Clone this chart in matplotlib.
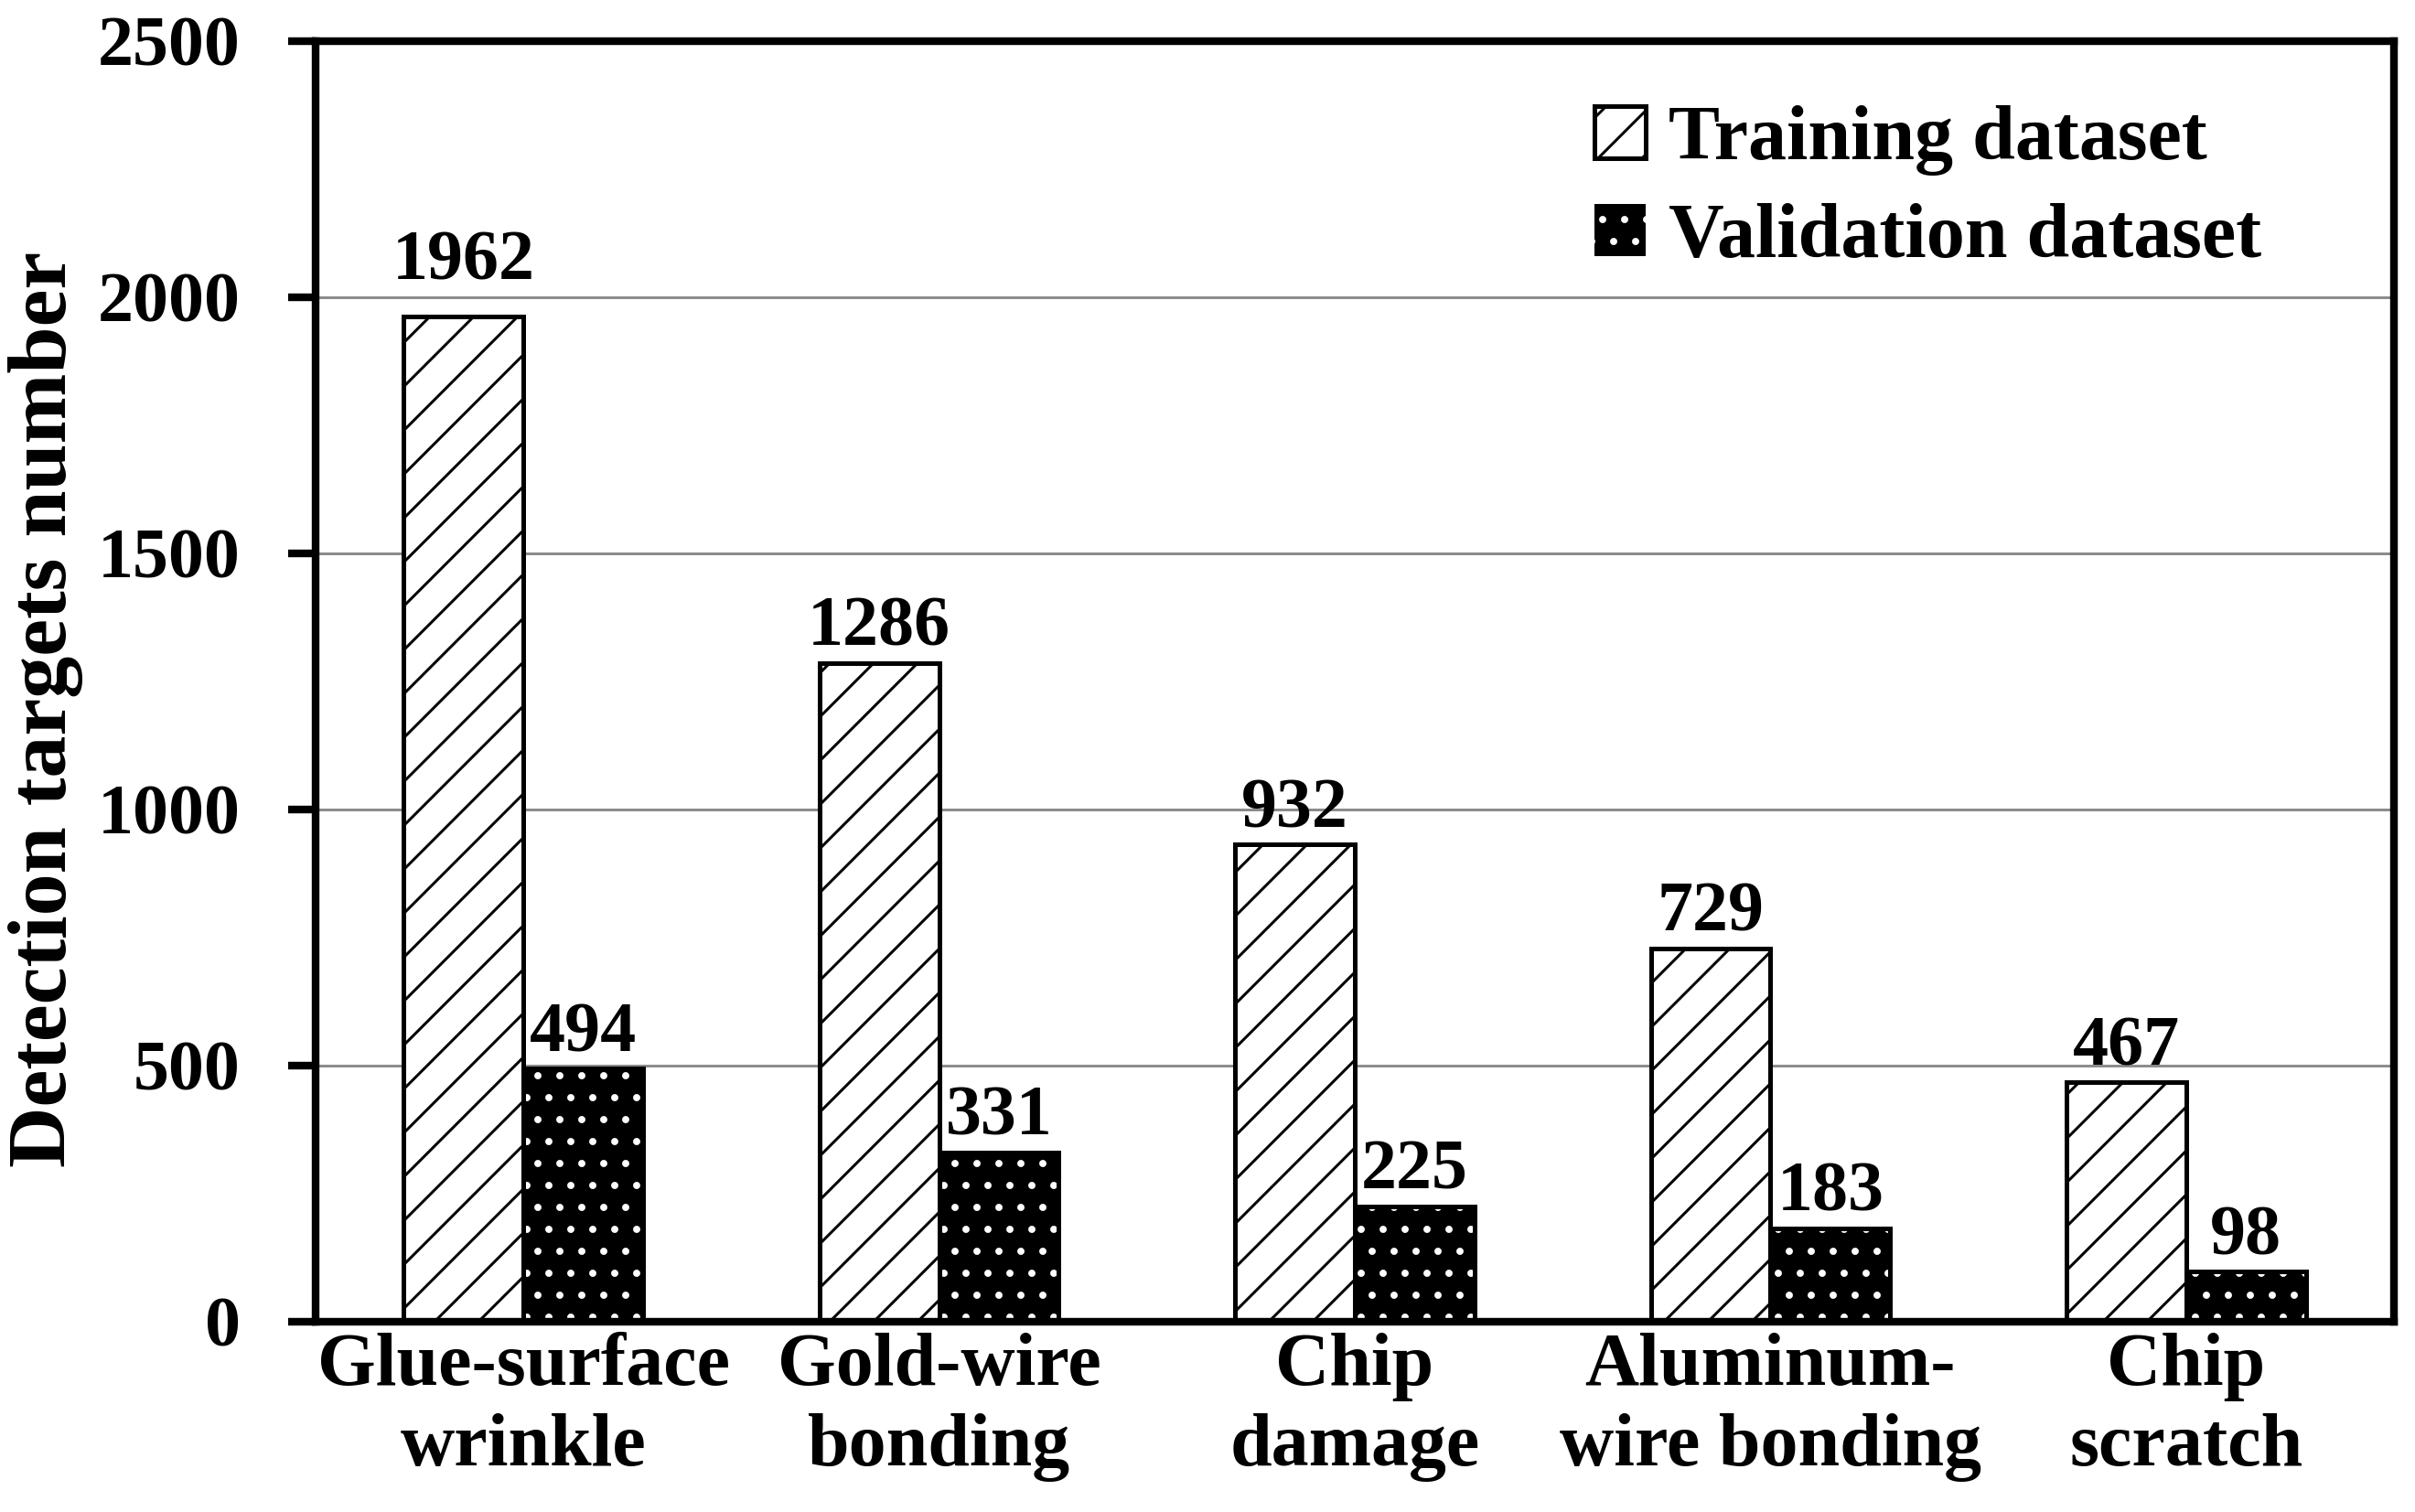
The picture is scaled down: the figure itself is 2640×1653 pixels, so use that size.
import matplotlib
matplotlib.use('Agg')
import matplotlib.pyplot as plt
import numpy as np

plt.rc('font', family='Liberation Serif', weight='bold', size=39)
plt.rc('hatch', linewidth=1.5, color='black')

categories = ['Glue-surface\nwrinkle', 'Gold-wire\nbonding', 'Chip\ndamage',
              'Aluminum-\nwire bonding', 'Chip\nscratch']
training = [1962, 1286, 932, 729, 467]
validation = [494, 331, 225, 183, 98]
series_names = ['Training dataset', 'Validation dataset']
y_ticks = [0, 500, 1000, 1500, 2000, 2500]

DPI = 144
W, H = 2640, 1653
fig = plt.figure(figsize=(W / DPI, H / DPI), dpi=DPI)
ax = fig.add_axes([345 / W, 1 - 1445 / H, 2272 / W, 1400 / H])

x = np.arange(len(categories))
w = 0.288

train_bars = ax.bar(x - w / 2, training, w, facecolor='white', edgecolor='black',
                    linewidth=2.5, hatch='/', zorder=2)

# white dots on black: hatch colour comes from rc when no edgecolor is given
plt.rcParams['hatch.color'] = 'white'
val_bars = ax.bar(x + w / 2, validation, w, color='black', hatch='.', zorder=2)
ax.bar(x + w / 2, validation, w, fill=False, edgecolor='black', linewidth=2.5, zorder=3)

lab1 = ax.bar_label(train_bars, padding=1, fontsize=39)
lab2 = ax.bar_label(val_bars, padding=1, fontsize=39)
lab1[0].xyann = (0, 12)

ax.set_xlim(-0.5, 4.5)
ax.set_ylim(0, 2500)
ax.set_yticks(y_ticks)
ax.set_xticks(x, categories)
for t in ax.get_xticklabels():
    t.set_linespacing(1.22)

ax.tick_params(axis='y', length=15, width=4.2, pad=26, direction='out', labelsize=39)
ax.tick_params(axis='x', length=0, pad=6, labelsize=41)
for s in ax.spines.values():
    s.set_linewidth(4.2)

ax.yaxis.grid(True, color='#8c8c8c', linewidth=1.5)
ax.set_axisbelow(True)

fig.text(50 / W, 1 - 775 / H, 'Detection targets number', rotation=90,
         ha='center', va='center', fontsize=46)

fig.legend([train_bars, val_bars], series_names, loc='upper left',
           bbox_to_anchor=(1743 / W, 1 - 115 / H), frameon=False, fontsize=42,
           handlelength=0.67, handleheight=0.67, handletextpad=0.29,
           labelspacing=0.36, borderpad=0, borderaxespad=0)

fig.savefig('out.png', dpi=DPI)
